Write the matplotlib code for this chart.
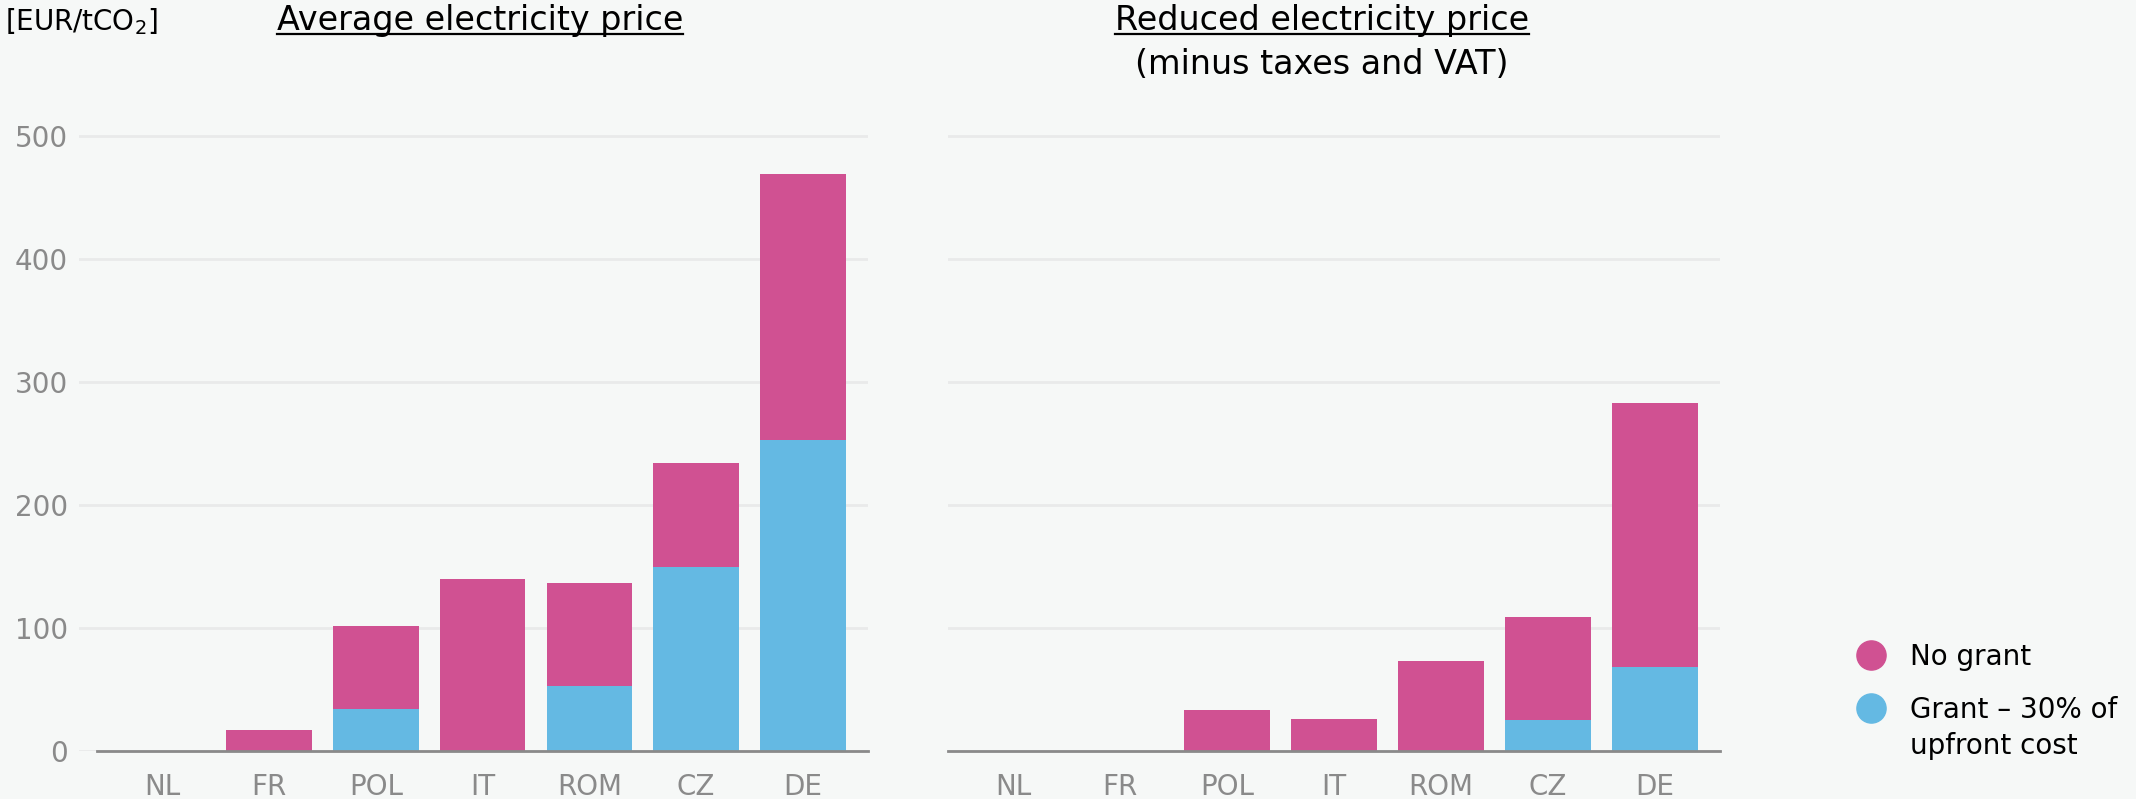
import numpy as np
import matplotlib
matplotlib.use("Agg")
import matplotlib.pyplot as plt
from matplotlib.lines import Line2D

# data (EUR/tCO2)
countries = ["NL", "FR", "POL", "IT", "ROM", "CZ", "DE"]
avg_no_grant = [0, 17, 102, 140, 137, 234, 469]
avg_grant = [0, 0, 34, 0, 53, 150, 253]
red_no_grant = [0, 0, 33, 26, 73, 109, 283]
red_grant = [0, 0, 0, 0, 0, 25, 68]

pink = "#D05192"
blue = "#64B9E3"
bg = "#F6F8F7"
grey = "#8A8A8A"
plt.rcParams["mathtext.default"] = "regular"

fig = plt.figure(figsize=(21.36, 7.99), dpi=100, facecolor=bg)
W, H = 2136, 799

def px_axes(x0, x1, y_top, y_bot):
    return fig.add_axes([x0 / W, 1 - y_bot / H, (x1 - x0) / W, (y_bot - y_top) / H])

ax1 = px_axes(79, 868, 130, 751)
ax2 = px_axes(948, 1720, 130, 751)

x = np.arange(len(countries))
for ax, nog, gr, left_ext in [(ax1, avg_no_grant, avg_grant, -0.78),
                              (ax2, red_no_grant, red_grant, -0.61)]:
    ax.set_facecolor(bg)
    ax.bar(x, nog, width=0.8, color=pink, zorder=2)
    ax.bar(x, gr, width=0.8, color=blue, zorder=3)
    ax.set_xlim(left_ext, 6.61)
    ax.set_ylim(0, 505)
    ax.set_yticks([0, 100, 200, 300, 400, 500])
    ax.grid(axis="y", color="#E9EAEA", lw=2, zorder=0)
    for s in ["top", "right", "left"]:
        ax.spines[s].set_visible(False)
    ax.spines["bottom"].set_color(grey)
    ax.spines["bottom"].set_linewidth(2)
    ax.spines["bottom"].set_bounds(-0.61, 6.61)
    ax.spines["bottom"].set_zorder(4)
    ax.set_xticks(x)
    ax.set_xticklabels(countries)
    ax.tick_params(length=0, labelsize=20, colors=grey, pad=16)
    ax.tick_params(axis="y", pad=8)

ax2.tick_params(axis="y", labelleft=False)

# titles
fig.text(5 / W, 1 - 30 / H, "[EUR/tCO$_2$]", fontsize=20, ha="left", va="baseline")
t1 = fig.text(480 / W, 1 - 30 / H, "Average electricity price", fontsize=24,
              ha="center", va="baseline")
t2 = fig.text(1322 / W, 1 - 30 / H, "Reduced electricity price", fontsize=24,
              ha="center", va="baseline")
fig.text(1322 / W, 1 - 74 / H, "(minus taxes and VAT)", fontsize=24,
         ha="center", va="baseline")

# underline the two titles
fig.canvas.draw()
r = fig.canvas.get_renderer()
for t in [t1, t2]:
    bb = t.get_window_extent(r)
    yy = 1 - 34 / H
    fig.add_artist(Line2D([bb.x0 / W, bb.x1 / W], [yy, yy], color="black",
                          lw=1.6, transform=fig.transFigure))

# legend
for yy, c, lab in [(655, pink, "No grant"), (708, blue, "Grant – 30% of\nupfront cost")]:
    fig.add_artist(Line2D([1871 / W], [1 - yy / H], marker="o", markersize=21,
                          color=c, ls="", transform=fig.transFigure))
    fig.text(1910 / W, 1 - (yy - 12) / H, lab, fontsize=20, ha="left", va="top",
             linespacing=1.35)

fig.savefig("out.png", dpi=100, facecolor=bg)
